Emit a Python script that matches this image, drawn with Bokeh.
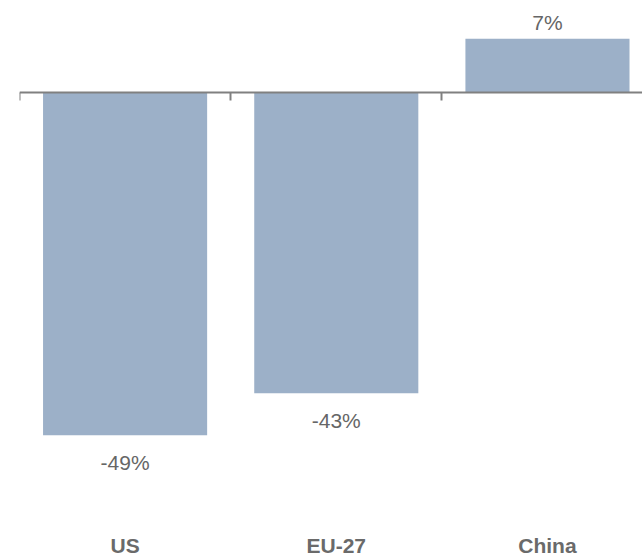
from bokeh.plotting import figure
from bokeh.models import (ColumnDataSource, LabelSet, LinearAxis, FixedTicker,
                          Range1d)
from bokeh.core.properties import value
from bokeh.embed import file_html
from bokeh.resources import INLINE

categories = ["US", "EU-27", "China"]
values = [-49, -43, 7.7]
value_labels = ["-49%", "-43%", "7%"]

xpos = [i + 0.5 for i in range(len(categories))]
offsets = [-27 if v < 0 else 16 for v in values]

src = ColumnDataSource(dict(x=xpos, v=values, lab=value_labels, off=offsets))

p = figure(width=642, height=559, output_backend="svg", toolbar_location=None,
           x_range=Range1d(0, 2.95), y_range=Range1d(-61.06, 13.17),
           x_axis_location=None, y_axis_location=None,
           min_border_left=19, min_border_right=0, min_border_top=0,
           min_border_bottom=0)
p.grid.visible = False
p.outline_line_color = None
p.background_fill_color = "white"
p.border_fill_color = "white"

p.vbar(x="x", top="v", bottom=0, width=0.777, source=src,
       fill_color="#9cb0c8", line_color=None)

labels = LabelSet(x="x", y="v", text="lab", y_offset="off", source=src,
                  text_align="center", text_baseline="middle",
                  text_font=value("Liberation Sans"), text_font_size="21px",
                  text_color="#666666")
p.add_layout(labels)

# zero axis with category boundary ticks
bounds = list(range(len(categories)))
zero_axis = LinearAxis(fixed_location=0,
                       ticker=FixedTicker(ticks=bounds, minor_ticks=[]),
                       major_label_overrides={b: "" for b in bounds},
                       major_tick_out=8, major_tick_in=0, minor_tick_out=0,
                       minor_tick_in=0, axis_line_color="#808080",
                       axis_line_width=2, major_tick_line_color="#808080",
                       major_tick_line_width=2,
                       major_label_standoff=0)
p.add_layout(zero_axis, "below")

# category label axis
cat_axis = LinearAxis(ticker=FixedTicker(ticks=xpos, minor_ticks=[]),
                      major_label_overrides={x: c for x, c in zip(xpos, categories)},
                      axis_line_color=None, major_tick_line_color=None,
                      minor_tick_line_color=None,
                      major_label_text_font="Liberation Sans",
                      major_label_text_font_style="bold",
                      major_label_text_font_size="21px",
                      major_label_text_color="#6a6a6a",
                      major_label_standoff=8)
p.add_layout(cat_axis, "below")

open("out.html", "w").write(file_html(p, INLINE))
